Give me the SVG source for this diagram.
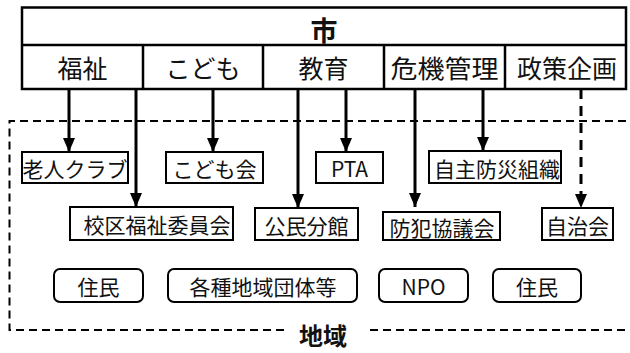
<svg xmlns="http://www.w3.org/2000/svg" width="630" height="353" viewBox="0 0 630 353">
<defs>
<marker id="ah" viewBox="0 0 14 12" refX="14" refY="6" markerWidth="14" markerHeight="12" markerUnits="userSpaceOnUse" orient="auto">
<path d="M0,0 L14,6 L0,12 z" fill="#000"/>
</marker>
</defs>
<style>
text{font-family:"Noto Sans CJK JP","Noto Sans",sans-serif;fill:#111;text-anchor:middle;dominant-baseline:central}
.hd{font-size:25px}
.t{font-size:21px}
.big{font-size:27px;font-weight:bold}
.reg{font-size:24px;font-weight:bold}
.box{fill:#fff;stroke:#000;stroke-width:2}
.rbox{fill:#fff;stroke:#000;stroke-width:2}
.ln{stroke:#000;stroke-width:2.5;fill:none}
.arr{stroke:#000;stroke-width:3;fill:none;marker-end:url(#ah)}
.dash{stroke:#000;stroke-width:2;fill:none;stroke-dasharray:8 5}
</style>
<rect width="630" height="353" fill="#fff"/>
<g id="region">
<path class="dash" d="M626,121 H9.5 V330 H288"/>
<path class="dash" d="M370,330 H630"/>
<text class="reg" x="323" y="334">地域</text>
</g>
<g id="city">
<rect x="22" y="7.5" width="604" height="81.5" fill="#fff" stroke="#000" stroke-width="2.5"/>
<path class="ln" d="M22,45 H626 M143,45 V89 M263,45 V89 M384,45 V89 M505,45 V89"/>
<text class="big" x="324" y="29">市</text>
</g>
<g id="dept-fukushi"><text class="hd" x="82.5" y="67">福祉</text></g>
<g id="dept-kodomo"><text class="hd" x="203" y="67">こども</text></g>
<g id="dept-kyoiku"><text class="hd" x="323.5" y="67">教育</text></g>
<g id="dept-kiki"><text class="hd" x="444.5" y="67" textLength="108" lengthAdjust="spacingAndGlyphs">危機管理</text></g>
<g id="dept-seisaku"><text class="hd" x="567" y="67">政策企画</text></g>
<g id="connectors">
<path class="arr" d="M69,89 V152"/>
<path class="arr" d="M136,89 V207"/>
<path class="arr" d="M213,89 V152"/>
<path class="arr" d="M298,89 V208"/>
<path class="arr" d="M346,89 V152"/>
<path class="arr" d="M415,89 V207"/>
<path class="arr" d="M483,89 V151"/>
<path class="arr" d="M581,89 V208" stroke-dasharray="10 7"/>
</g>
<g id="rojin"><rect class="box" x="22" y="152" width="106" height="31"/><text class="t" x="75" y="167.5">老人クラブ</text></g>
<g id="kodomokai"><rect class="box" x="166" y="152" width="97" height="31"/><text class="t" x="214.5" y="167.5">こども会</text></g>
<g id="pta"><rect class="box" x="316" y="152" width="67" height="31"/><text class="t" x="349.5" y="167.5">PTA</text></g>
<g id="jishubosai"><rect class="box" x="429" y="151" width="132" height="32"/><text class="t" x="497" y="167.5">自主防災組織</text></g>
<g id="kouku"><rect class="box" x="70" y="207" width="163" height="33"/><text class="t" x="157" y="224">校区福祉委員会</text></g>
<g id="kominbunkan"><rect class="box" x="255" y="208" width="103" height="32"/><text class="t" x="306.5" y="224.5">公民分館</text></g>
<g id="bohan"><rect class="box" x="383" y="212" width="117" height="28"/><text class="t" x="442" y="227">防犯協議会</text></g>
<g id="jichikai"><rect class="box" x="542" y="208" width="71" height="32"/><text class="t" x="577.5" y="224.5">自治会</text></g>
<g id="jumin1"><rect class="rbox" x="54" y="269" width="89" height="33" rx="6"/><text class="t" x="98.5" y="285.5">住民</text></g>
<g id="kakushu"><rect class="rbox" x="168" y="269" width="189" height="33" rx="6"/><text class="t" x="263" y="285.5">各種地域団体等</text></g>
<g id="npo"><rect class="rbox" x="379" y="269" width="89" height="33" rx="6"/><text class="t" x="423.5" y="285.5">NPO</text></g>
<g id="jumin2"><rect class="rbox" x="493" y="269" width="88" height="33" rx="6"/><text class="t" x="537" y="285.5">住民</text></g>
</svg>
